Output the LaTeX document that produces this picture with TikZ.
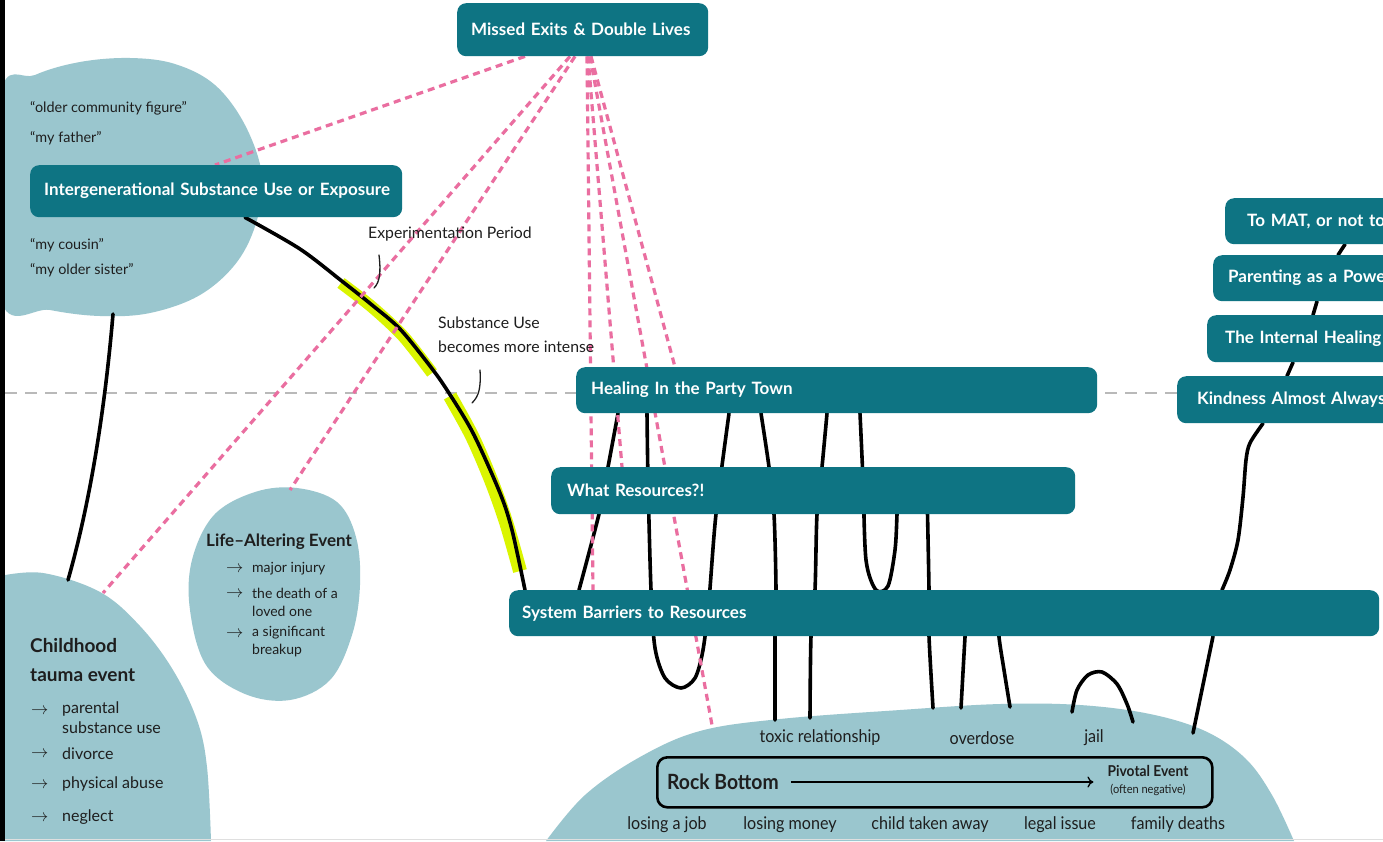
\documentclass[tikz,border=0pt]{standalone}
\usepackage{fontspec}
\setmainfont{Lato}
\newfontfamily\condfont[FakeStretch=0.92]{Lato}
\usetikzlibrary{arrows.meta}
\pgfdeclarelayer{bg}
\pgfdeclarelayer{mid}
\pgfsetlayers{bg,mid,main}
\definecolor{boxteal}{RGB}{14,116,131}
\definecolor{blobc}{RGB}{154,198,206}
\definecolor{pinkd}{RGB}{234,110,160}
\definecolor{hilite}{RGB}{218,245,0}
\definecolor{ink}{RGB}{30,30,30}
\definecolor{grayd}{RGB}{185,185,185}
\tikzset{
  box/.style={fill=boxteal, rounded corners=9pt, text=white, anchor=north west, inner ysep=0pt, align=left, font=\bfseries\fontsize{17}{20}\selectfont},
  blob/.style={fill=blobc},
  life/.style={draw=black, line width=3.6pt, line cap=round, line join=round},
  missed/.style={draw=pinkd, line width=3.2pt, dash pattern=on 7pt off 5pt},
  hl/.style={draw=hilite, line cap=butt},
  lbl/.style={text=ink, anchor=west, inner sep=0pt, font=\fontsize{14.4}{17}\selectfont},
  head/.style={text=ink, anchor=west, inner sep=0pt, font=\bfseries\fontsize{19}{22}\selectfont},
  cond/.style={text=ink, inner sep=0pt, font=\condfont\fontsize{17.5}{20}\selectfont},
  callout/.style={draw=ink, line width=1.3pt, line cap=round},
}
\begin{document}
\begin{tikzpicture}[x=1pt,y=-1pt]
\useasboundingbox (0,0) rectangle (1383,841);
\clip (0,0) rectangle (1383,841);

% ---------- boxes ----------
\node[box, minimum width=251pt, minimum height=53pt, text width=223pt, inner xsep=14pt] (mx) at (457,3) {\mbox{Missed Exits \& Double Lives}};
\node[box, minimum width=372pt, minimum height=52pt, text width=344pt, inner xsep=14pt] (ig) at (30,165) {\mbox{Intergenerational Substance Use or Exposure}};
\node[box, minimum width=521pt, minimum height=46pt, text width=491pt, inner xsep=15pt] (hp) at (576,367) {\mbox{Healing In the Party Town}};
\node[box, minimum width=524pt, minimum height=47pt, text width=492pt, inner xsep=16pt] (wr) at (551,467) {\mbox{What Resources?!}};
\node[box, minimum width=870pt, minimum height=46pt, text width=844pt, inner xsep=13pt] (sb) at (509,590) {\mbox{System Barriers to Resources}};
\node[box, minimum width=300pt, minimum height=46pt, text width=256pt, inner xsep=22pt] (mat) at (1225,198) {\mbox{To MAT, or not to}};
\node[box, minimum width=300pt, minimum height=46pt, text width=270pt, inner xsep=15pt] (par) at (1213,255) {\mbox{Parenting as a Powe}};
\node[box, minimum width=300pt, minimum height=47pt, text width=264pt, inner xsep=18pt] (ih) at (1207,315) {\mbox{The Internal Healing}};
\node[box, minimum width=300pt, minimum height=47pt, text width=260pt, inner xsep=20pt] (ka) at (1177,376) {\mbox{Kindness Almost Always}};

% ---------- background: blobs and guide line ----------
\begin{pgfonlayer}{bg}
\fill[white] (0,0) rectangle (1383,841);
\draw[grayd, line width=2pt, dash pattern=on 12pt off 8pt] (5,393) -- (1383,393);
\fill[blob] plot[smooth cycle, tension=0.6] coordinates {(0,97) (35,75) (80,62) (130,58) (175,64) (215,85) (245,125) (262,175) (257,220) (237,262) (200,295) (150,313) (100,316) (50,310) (0,297)};
\fill[blob] plot[smooth, tension=0.6] coordinates {(0,576) (43,573) (100,592) (140,626) (173,670) (197,720) (207,767) (211,841)} -- (0,841) -- cycle;
\fill[blob] plot[smooth cycle, tension=0.6] coordinates {(297,488) (337,502) (356,537) (360,585) (352,635) (330,680) (290,700) (245,694) (206,665) (190,610) (192,560) (214,515) (255,492)};
\fill[blob] plot[smooth, tension=0.6] coordinates {(546,841) (585,795) (640,757) (700,731) (780,719) (900,710) (1000,704) (1080,705) (1150,714) (1205,731) (1245,758) (1272,795) (1294,841)} -- cycle;
\draw[gray!25, line width=1.2pt] (0,839.5) -- (1383,839.5);
\fill[black] (0,0) rectangle (4.5,841);
\end{pgfonlayer}

\coordinate (tlbot) at (113,314);
\coordinate (chtop) at (68,580);
\coordinate (chpk) at (103,593);
\coordinate (latop) at (290,490);
\coordinate (rbtop) at (712,725);

% ---------- lines ----------
\begin{pgfonlayer}{mid}
\draw[hl, line width=12pt] plot[smooth] coordinates {(341,283) (372,307) (403,336) (432,373)};
\draw[hl, line width=14pt] plot[smooth] coordinates {(450,396) (472,436) (491,480) (506,522) (520,571)};
\draw[life] (tlbot) .. controls (104,420) and (88,510) .. (chtop);
\draw[life] plot[smooth] coordinates {(245,0 |- ig.south) (300,249) (343,282) (372,305) (400,329) (430,366) (447,390) (473,433) (500,493) (512,530) (525,0 |- sb.north)};
\draw[life] plot[smooth] coordinates {(618,0 |- hp.south) (608,467) (599,514) (579,0 |- sb.north)};
\draw[life] plot[smooth] coordinates {(647,0 |- hp.south) (648,480) (651,590) (655,648) (665,678) (681,688) (695,678) (703,650) (709,600) (716,514) (729,0 |- hp.south)};
\draw[life] plot[smooth] coordinates {(761,0 |- hp.south) (769,467) (774,514) (776,590) (775,636) (775,720)};
\draw[life] plot[smooth] coordinates {(827,0 |- hp.south) (822,467) (817,514) (815,590) (811,636) (810,718)};
\draw[life] plot[smooth] coordinates {(860,0 |- hp.south) (863,480) (866,560) (876,590) (888,586) (895,550) (897,514) (898,480)};
\draw[life] plot[smooth] coordinates {(927,490) (929,590) (929,636) (933,708)};
\draw[life] plot[smooth] coordinates {(967,610) (965,637) (961,708)};
\draw[life] plot[smooth] coordinates {(998,610) (999,637) (1004,670) (1010,707)};
\draw[life] plot[smooth] coordinates {(1072,712) (1077,690) (1088,675) (1102,672) (1117,684) (1127,704) (1133,722)};
\draw[life] (1345,0 |- mat.south) -- (1338,0 |- par.north);
\draw[life] (1317,0 |- par.south) -- (1313,0 |- ih.north);
\draw[life] (1293,0 |- ih.south) -- (1287,0 |- ka.north);
\draw[life] plot[smooth] coordinates {(1263,0 |- ka.south) (1250,443) (1246,460) (1243,497) (1238,540) (1230,570) (1222,0 |- sb.north)};
\draw[life] (1213,0 |- sb.south) -- (1193,733);
\draw[missed] (525,0 |- mx.south) -- (215,0 |- ig.north);
\draw[missed] (570,0 |- mx.south) -- (chpk);
\draw[missed] (575,0 |- mx.south) -- (latop);
\draw[missed] (587,0 |- mx.south) -- (593,0 |- sb.north);
\draw[missed] (588,0 |- mx.south) -- (622,0 |- wr.north);
\draw[missed] (590,0 |- mx.south) -- (rbtop);
\draw[missed] (591,0 |- mx.south) -- (675,0 |- hp.north);
\end{pgfonlayer}

% ---------- texts ----------
\node[lbl] (q1) at (30,108) {“older community figure”};
\node[lbl] (q2) at (30,138) {“my father”};
\node[lbl] (q3) at (30,245) {“my cousin”};
\node[lbl] (q4) at (30,270) {“my older sister”};

\node[lbl, font=\fontsize{15.8}{18}\selectfont] (ep) at (368,234) {Experimentation Period};
\node[lbl, font=\fontsize{15.8}{18}\selectfont] (su1) at (438,323) {Substance Use};
\node[lbl, font=\fontsize{15.8}{18}\selectfont] (su2) at (438,347) {becomes more intense};
\draw[callout] (379,255) .. controls (381,272) and (380,282) .. (374,288);
\draw[callout] (480,370) .. controls (481,388) and (479,396) .. (472,403);

\node[head] (ch1) at (30,646) {Childhood};
\node[head] (ch2) at (30,675) {tauma event};
\begin{scope}[every node/.style={lbl, font=\fontsize{16}{19}\selectfont}]
\node at (31,711) {\fontsize{19}{20}\selectfont$\rightarrow$};
\node at (31,754) {\fontsize{19}{20}\selectfont$\rightarrow$};
\node at (31,785) {\fontsize{19}{20}\selectfont$\rightarrow$};
\node at (31,818) {\fontsize{19}{20}\selectfont$\rightarrow$};
\node (c1) at (62,709) {parental};
\node (c2) at (62,728) {substance use};
\node (c3) at (62,754) {divorce};
\node (c4) at (62,784) {physical abuse};
\node (c5) at (62,817) {neglect};
\end{scope}

\node[head, font=\bfseries\fontsize{17}{20}\selectfont] (la) at (206,542) {Life–Altering Event};
\begin{scope}[every node/.style={lbl, font=\fontsize{14}{16}\selectfont}]
\node at (226,569) {\fontsize{16}{17}\selectfont$\rightarrow$};
\node at (226,594) {\fontsize{16}{17}\selectfont$\rightarrow$};
\node at (226,634) {\fontsize{16}{17}\selectfont$\rightarrow$};
\node (l1) at (252,569) {major injury};
\node (l2) at (252,593) {the death of a};
\node (l3) at (252,611) {loved one};
\node (l4) at (252,633) {a significant};
\node (l5) at (252,651) {breakup};
\end{scope}

% ---------- rock bottom ----------
\node[draw=black, line width=2.6pt, rounded corners=10pt, minimum width=555pt, minimum height=50pt, anchor=north west, inner sep=0pt] (rb) at (656,756) {};
\node[cond, anchor=west, font=\condfont\bfseries\fontsize{21}{24}\selectfont] (rbl) at (667,782) {Rock Bottom};
\node[cond, align=center, font=\condfont\bfseries\fontsize{15}{17}\selectfont] (pe) at (1148,781) {Pivotal Event\\[0pt]{\mdseries\fontsize{12}{13}\selectfont (often negative)}};
\draw[line width=1.3pt, -{To[length=6pt,width=11pt]}, shorten <=12pt, shorten >=14pt] (rbl.east) -- (pe.west |- rbl.east);
\node[cond] (t1) at (820,738) {toxic relationship};
\node[cond] (t2) at (982,738) {overdose};
\node[cond] (t3) at (1094,738) {jail};
\node[cond] (b1) at (667,825) {losing a job};
\node[cond] (b2) at (790,825) {losing money};
\node[cond] (b3) at (930,825) {child taken away};
\node[cond] (b4) at (1060,825) {legal issue};
\node[cond] (b5) at (1178,825) {family deaths};
\end{tikzpicture}
\end{document}
